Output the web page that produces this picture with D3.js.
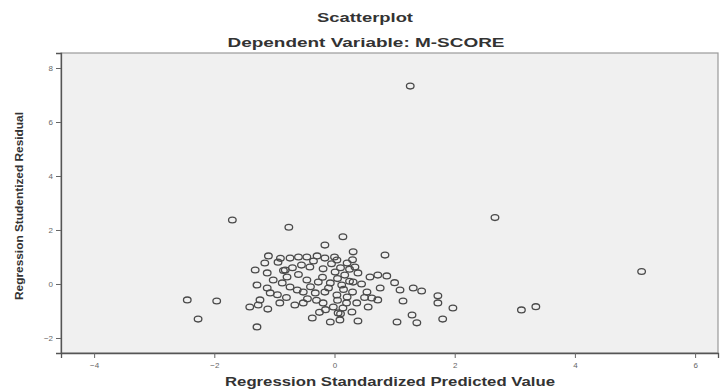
<!DOCTYPE html>
<html>
<head>
<meta charset="utf-8">
<script src="https://cdn.jsdelivr.net/npm/d3@7/dist/d3.min.js"></script>
<style>
  html, body { margin: 0; padding: 0; background: #ffffff; }
  svg { display: block; }
  text { font-family: "Liberation Sans", Arial, sans-serif; }
</style>
</head>
<body>
<svg id="chart" width="721" height="392"></svg>
<script>
// ---- data ----
const chartTitle = "Scatterplot";
const chartSubtitle = "Dependent Variable: M-SCORE";
const xAxisTitle = "Regression Standardized Predicted Value";
const yAxisTitle = "Regression Studentized Residual";
const xTickValues = [-4, -2, 0, 2, 4, 6];
const yTickValues = [-2, 0, 2, 4, 6, 8];

// standardized predicted values
const predicted = [
  1.26, -1.70, -0.76, 2.67, 5.11, 3.11, 3.35, -2.45, -1.96, -2.27, -1.29,
  0.14, -0.16, -1.10, -0.94, -0.74, -1.16, -1.32, -1.12, -0.82, -0.79, -1.02, -0.87, -0.74, -0.62,
  -1.29, -1.12, -1.07, -1.24, -1.41, -1.27, -1.11, -0.91, -0.66, -0.52, -0.37, -0.07, 0.09,
  -0.46, -0.29, -0.16, 0.04, 0.21, -0.41, -0.19, 0.01, 0.17, -0.46, -0.27, -0.07, 0.12,
  -0.52, -0.32, -0.16, 0.04, 0.21, -0.19, -0.02, 0.14, 0.06,
  0.31, 0.84, 0.34, 0.39, 0.31, 0.59, 0.72, 0.87, 0.76, 1.09, 1.31, 1.45, 0.54, 0.62,
  0.72, 1.14, 1.72, 1.72, 1.97, 0.56, 0.37, 0.29, 1.29, 0.39, 1.04, 1.37, 1.80,
  -0.55, -0.35, -0.05, 0.10, 0.25, -0.60, -0.20, 0.05, 0.25, -0.40, -0.10, 0.15, 0.30,
  -0.45, -0.30, 0.05, 0.20, -0.15, 0.10, -0.25, 0.45, 0.50, -0.70, -0.85, -0.95, -0.80,
  0.30, 0.00, -0.60, -0.90, 1.00
];
// studentized residuals
const residual = [
  7.33, 2.37, 2.10, 2.46, 0.46, -0.96, -0.84, -0.59, -0.63, -1.30, -1.59,
  1.75, 1.44, 1.04, 0.81, 0.96, 0.78, 0.52, 0.41, 0.52, 0.26, 0.15, 0.04, -0.11, -0.22,
  -0.04, -0.15, -0.33, -0.59, -0.85, -0.78, -0.93, -0.70, -0.78, -0.70, -1.26, -1.41, -1.33,
  1.00, 1.04, 0.96, 0.89, 0.78, 0.63, 0.56, 0.44, 0.33, 0.15, 0.07, 0.04, -0.04,
  -0.30, -0.33, -0.30, -0.41, -0.48, -0.70, -0.85, -0.89, -1.07,
  1.19, 1.07, 0.63, 0.41, 0.07, 0.26, 0.33, 0.30, -0.15, -0.22, -0.15, -0.26, -0.30, -0.52,
  -0.59, -0.63, -0.44, -0.70, -0.89, -0.85, -0.70, -1.04, -1.15, -1.37, -1.41, -1.44, -1.30,
  0.70, 0.85, 0.75, 0.60, 0.55, 0.35, 0.25, 0.20, 0.10, -0.10, -0.15, -0.20, -0.30,
  -0.55, -0.60, -0.60, -0.70, -0.95, -1.10, -1.05, 0.00, -0.50, 0.60, 0.50, -0.40, -0.50,
  0.90, 1.00, 1.00, 0.95, 0.05
];

// ---- layout ----
const svg = d3.select("#chart");
const plot = { left: 61, right: 718, top: 53, bottom: 353 };

const x = d3.scaleLinear().domain([-4.551, 6.381]).range([plot.left, plot.right]);
const y = d3.scaleLinear().domain([-2.556, 8.556]).range([plot.bottom, plot.top]);

// titles
svg.append("text")
  .attr("x", 365).attr("y", 22)
  .attr("text-anchor", "middle")
  .attr("font-size", 12).attr("font-weight", "bold").attr("fill", "#333")
  .attr("textLength", 96).attr("lengthAdjust", "spacingAndGlyphs")
  .text(chartTitle);
svg.append("text")
  .attr("x", 366).attr("y", 47)
  .attr("text-anchor", "middle")
  .attr("font-size", 12.5).attr("font-weight", "bold").attr("fill", "#333")
  .attr("textLength", 277).attr("lengthAdjust", "spacingAndGlyphs")
  .text(chartSubtitle);

// plot background
svg.append("rect")
  .attr("x", plot.left).attr("y", plot.top)
  .attr("width", plot.right - plot.left).attr("height", plot.bottom - plot.top)
  .attr("fill", "#f0f0f0")
  .attr("stroke", "#9a9a9a").attr("stroke-width", 1.2);

// axes
const xAxis = d3.axisBottom(x).tickValues(xTickValues).tickSize(5).tickPadding(4).tickFormat(d3.format("d"));
const yAxis = d3.axisLeft(y).tickValues(yTickValues).tickSize(5).tickPadding(3).tickFormat(d3.format("d"));

const gx = svg.append("g").attr("transform", `translate(0,${plot.bottom})`).call(xAxis);
const gy = svg.append("g").attr("transform", `translate(${plot.left},0)`).call(yAxis);
[gx, gy].forEach(g => {
  g.select(".domain").attr("stroke", "#555").attr("stroke-width", 1.3);
  g.selectAll(".tick line").attr("stroke", "#666");
  g.selectAll(".tick text").attr("fill", "#666").attr("font-size", 8)
    .attr("font-family", "'Liberation Sans', Arial, sans-serif");
});

// axis titles
svg.append("text")
  .attr("x", 390).attr("y", 386)
  .attr("text-anchor", "middle")
  .attr("font-size", 12).attr("font-weight", "bold").attr("fill", "#333")
  .attr("textLength", 330).attr("lengthAdjust", "spacingAndGlyphs")
  .text(xAxisTitle);
svg.append("text")
  .attr("transform", `translate(23,${(plot.top + plot.bottom) / 2 + 3}) rotate(-90)`)
  .attr("text-anchor", "middle")
  .attr("font-size", 11).attr("font-weight", "bold").attr("fill", "#333")
  .attr("textLength", 188).attr("lengthAdjust", "spacingAndGlyphs")
  .text(yAxisTitle);

// points
const pts = predicted.map((p, i) => ({ p, r: residual[i] }));
svg.append("g").selectAll("ellipse")
  .data(pts)
  .join("ellipse")
  .attr("cx", d => x(d.p))
  .attr("cy", d => y(d.r))
  .attr("rx", 3.8).attr("ry", 2.9)
  .attr("fill", "none")
  .attr("stroke", "#4a4a4a")
  .attr("stroke-width", 1.3);
</script>
</body>
</html>
